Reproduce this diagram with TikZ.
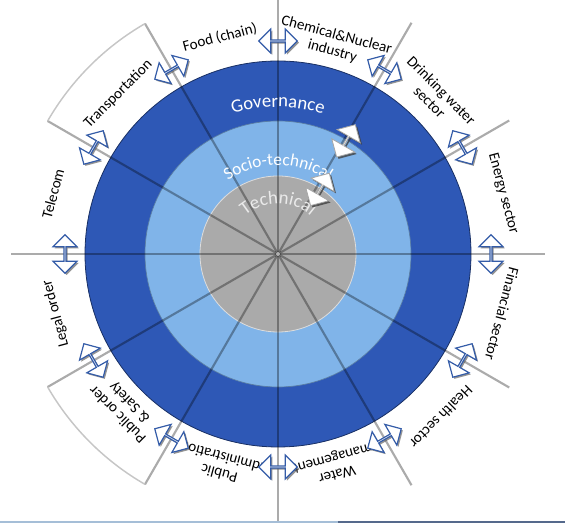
\documentclass[tikz,border=0pt]{standalone}
\usepackage{fontspec}
\setmainfont{Carlito}
\usetikzlibrary{shapes.arrows,shadows,decorations.text}
\definecolor{govblue}{RGB}{46,88,182}
\definecolor{socioblue}{RGB}{128,180,233}
\definecolor{techgray}{RGB}{170,170,170}
\definecolor{arrowblue}{RGB}{52,92,168}
\definecolor{barlight}{RGB}{165,190,215}
\definecolor{bardark}{RGB}{85,105,140}
\tikzset{
  spoke/.style={black,opacity=.33,line width=1.6pt},
  bracket/.style={gray!45,line width=1.1pt},
  sector/.style={font=\fontsize{11.3}{12.5}\selectfont,align=center,inner sep=0pt},
  link/.style={double arrow,draw=arrowblue,fill=white,line width=.9pt,
    minimum height=29pt,minimum width=18pt,double arrow head extend=5pt,inner sep=0pt,
    drop shadow={shadow xshift=1.2pt,shadow yshift=-1.2pt,fill=black!60,opacity=.7}},
  tie/.style={double arrow,draw=black!35,fill=white,line width=.6pt,
    minimum height=28pt,minimum width=20pt,double arrow head extend=5pt,inner sep=0pt,
    drop shadow={shadow xshift=1.4pt,shadow yshift=-1.4pt,fill=black!75,opacity=.8}}
}

\begin{document}
\begin{tikzpicture}[x=0.75pt,y=0.75pt]
\useasboundingbox (-278,-269) rectangle (287,254);
\coordinate (hub) at (0,0);
\fill[govblue] (hub) circle[radius=193];
\draw[govblue!55!black,line width=.6pt] (hub) circle[radius=193];
\fill[socioblue] (hub) circle[radius=133];
\draw[socioblue!70!black,line width=.5pt] (hub) circle[radius=133];
\fill[techgray] (hub) circle[radius=78];
\draw[white!60!techgray,line width=.6pt] (hub) circle[radius=78];
\draw[spoke] (hub) -- (0:267);
\draw[spoke] (hub) -- (30:267);
\draw[spoke] (hub) -- (60:267);
\draw[spoke] (hub) -- (90:267);
\draw[spoke] (hub) -- (120:266);
\draw[spoke] (hub) -- (150:266);
\draw[spoke] (hub) -- (180:267);
\draw[spoke] (hub) -- (210:266);
\draw[spoke] (hub) -- (240:266);
\draw[spoke] (hub) -- (270:267);
\draw[spoke] (hub) -- (300:267);
\draw[spoke] (hub) -- (330:267);
\draw[bracket] (120:266) arc[start angle=120,end angle=150,radius=266];
\draw[bracket] (210:266) arc[start angle=210,end angle=240,radius=266];
\fill[black!30!white] (hub) circle[radius=2];
\path[decorate,decoration={text along path,text align=center,text color=white,
  text={|\fontsize{14}{14}\selectfont|Governance}}] (125:147) arc[start angle=125,end angle=55,radius=147];
\path[decorate,decoration={text along path,text align=center,text color=white,
  text={|\fontsize{13}{13}\selectfont|Socio-technical}}] (140:89) arc[start angle=140,end angle=40,radius=89];
\path[decorate,decoration={text along path,text align=center,text color=white!75!techgray,
  text={|\fontsize{14}{14}\selectfont|Technical}}] (160:50) arc[start angle=160,end angle=20,radius=50];
\node[sector,rotate=15] (food) at (105:224) {Food (chain)};
\node[sector,rotate=-15] (chem) at (75:218) {Chemical\&Nuclear\\industry};
\node[sector,rotate=-45] (drink) at (45:223) {Drinking water\\sector};
\node[sector,rotate=-75] (energy) at (15:233) {Energy sector};
\node[sector,rotate=-105] (finance) at (-15:232) {Financial sector};
\node[sector,rotate=-135] (health) at (-45:231) {Health sector};
\node[sector,rotate=-165] (water) at (-75:219) {Water\\management};
\node[sector,rotate=165] (admin) at (255:219) {Public\\administration};
\node[sector,rotate=135] (safety) at (225:218) {Public order\\\& Safety};
\node[sector,rotate=105] (legal) at (195:230) {Legal order};
\node[sector,rotate=75] (telecom) at (165:233) {Telecom};
\node[sector,rotate=45] (transport) at (135:226) {Transportation};
\node[link,rotate=90] (j0) at (0:213) {};
\node[link,rotate=120] (j30) at (30:213) {};
\node[link,rotate=150] (j60) at (60:213) {};
\node[link,rotate=180] (j90) at (90:213) {};
\node[link,rotate=210] (j120) at (120:213) {};
\node[link,rotate=240] (j150) at (150:213) {};
\node[link,rotate=270] (j180) at (180:213) {};
\node[link,rotate=300] (j210) at (210:213) {};
\node[link,rotate=330] (j240) at (240:213) {};
\node[link,rotate=0] (j270) at (270:213) {};
\node[link,rotate=30] (j300) at (300:213) {};
\node[link,rotate=60] (j330) at (330:213) {};
\node[tie,rotate=60] (t1) at (59:132) {};
\node[tie,rotate=60] (t2) at (57:77) {};
\fill[barlight] (-278,-269) rectangle (60,-267);
\fill[bardark] (60,-269) rectangle (287,-267);
\end{tikzpicture}
\end{document}
